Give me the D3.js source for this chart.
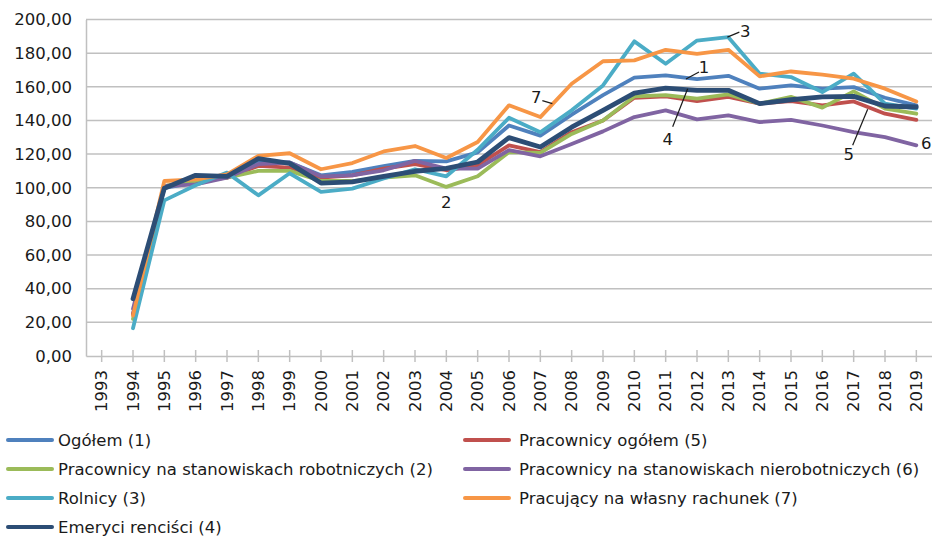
<!DOCTYPE html>
<html>
<head>
<meta charset="utf-8">
<script src="https://cdn.jsdelivr.net/npm/d3@7"></script>
<style>
  body { margin: 0; background: #fff; }
  svg { display: block; font-family: "DejaVu Sans", sans-serif; }
</style>
</head>
<body>
<div id="chart"></div>
<script>
const years = d3.range(1993, 2020).map(String);

// index 1993..2019, no value for 1993
const ogolem = [null, 25, 100, 103, 107, 115, 115, 107.4, 109.4, 112.8, 115.9, 115.7, 121, 137, 131, 143.4, 155, 165.4, 166.8, 164.6, 166.5, 158.9, 160.8, 158.9, 159.8, 153.5, 149];
const pracownicyOgolem = [null, 25, 101, 104, 106, 113, 112, 106, 107.4, 111.4, 114, 110.4, 113.4, 125.2, 121.2, 133, 140, 153.5, 154.3, 151.5, 154, 150, 151.5, 149, 151.3, 144, 140.4];
const robotnicy = [null, 22, 101, 104, 106, 110, 110, 104, 104, 106, 107.4, 100.5, 106.8, 121.2, 120.7, 132, 140, 154.3, 155, 153, 155.5, 150, 154, 147.6, 157.3, 147, 144];
const nierobotnicy = [null, 28, 101, 102, 106, 114, 115, 106.8, 107.4, 110.4, 116, 111.4, 111.4, 122.3, 118.7, 126, 133.5, 142, 146, 140.6, 143, 139, 140.4, 137, 133.1, 130.1, 125.2];
const rolnicy = [null, 16.5, 92.5, 101.5, 109, 95.5, 108.6, 97.5, 99.5, 105.5, 111, 106.8, 122.6, 141.6, 133, 146, 160.8, 187, 173.7, 187.5, 189.5, 167.8, 165.8, 156.9, 167.8, 150, 147];
const wlasnyRachunek = [null, 24, 104, 105, 108, 119, 120.5, 111, 114.7, 121.6, 124.8, 117.7, 127.2, 149, 142, 161.8, 175.2, 175.7, 182, 179.6, 182, 166.2, 169.1, 167.2, 164.8, 158.9, 151.3];
const emeryci = [null, 34, 99.7, 107.4, 106.8, 117.3, 114.5, 102.8, 103.5, 106.8, 109.8, 111.5, 115.3, 129.8, 124.2, 136, 146, 156.3, 159.2, 157.9, 157.9, 150, 152.3, 154, 154.3, 148.6, 148];

const seriesNames = [
  'Ogółem (1)',
  'Pracownicy ogółem (5)',
  'Pracownicy na stanowiskach robotniczych (2)',
  'Pracownicy na stanowiskach nierobotniczych (6)',
  'Rolnicy (3)',
  'Pracujący na własny rachunek (7)',
  'Emeryci renciści (4)'
];
const seriesValues = [ogolem, pracownicyOgolem, robotnicy, nierobotnicy, rolnicy, wlasnyRachunek, emeryci];
const seriesColors = ['#4f81bd', '#c0504d', '#9bbb59', '#8064a2', '#4bacc6', '#f79646', '#2c4d75'];

const yTicks = d3.range(0, 201, 20);

const width = 932, height = 539;

const svg = d3.select('#chart')
  .append('svg')
  .attr('width', width)
  .attr('height', height);

const x = d3.scaleBand().domain(years).range([86, 932]);
const y = d3.scaleLinear().domain([0, 200]).range([356, 19.5]);
const xc = (yr) => x(yr) + x.bandwidth() / 2;
const fmt = (v) => d3.format('.2f')(v).replace('.', ',');

// gridlines
svg.append('g')
  .selectAll('line')
  .data(yTicks.filter(d => d > 0))
  .enter()
  .append('line')
  .attr('x1', 86)
  .attr('x2', 932)
  .attr('y1', d => y(d))
  .attr('y2', d => y(d))
  .style('stroke', '#c0c0c0')
  .style('stroke-width', 1.5);

// y axis
const yAxis = svg.append('g')
  .attr('transform', 'translate(86,0)')
  .call(d3.axisLeft(y).tickValues(yTicks).tickSize(0).tickPadding(14).tickFormat(fmt));
yAxis.select('.domain').style('stroke', '#c0c0c0').style('stroke-width', 1.5);
yAxis.selectAll('text')
  .style('font-family', '"DejaVu Sans", sans-serif')
  .style('font-size', '16.5px')
  .style('fill', '#1a1a1a');

// x axis
const xAxis = svg.append('g')
  .attr('transform', 'translate(0,356)')
  .call(d3.axisBottom(x).tickSizeInner(6).tickSizeOuter(0));
xAxis.select('.domain').style('stroke', '#c0c0c0').style('stroke-width', 1.5);
xAxis.selectAll('.tick line')
  .attr('y1', -6)
  .style('stroke', '#c0c0c0')
  .style('stroke-width', 1.5);
xAxis.selectAll('text')
  .attr('transform', 'rotate(-90)')
  .attr('x', -14)
  .attr('y', 0)
  .attr('dy', '0.35em')
  .style('text-anchor', 'end')
  .style('font-family', '"DejaVu Sans", sans-serif')
  .style('font-size', '16.5px')
  .style('fill', '#1a1a1a');

// lines
const line = d3.line()
  .defined(d => d[1] !== null)
  .x(d => xc(d[0]))
  .y(d => y(d[1]));

const data = seriesNames.map((name, i) => ({
  name,
  color: seriesColors[i],
  values: years.map((yr, j) => [yr, seriesValues[i][j]])
}));

svg.append('g')
  .selectAll('path')
  .data(data)
  .enter()
  .append('path')
  .attr('d', d => line(d.values))
  .attr('fill', 'none')
  .attr('stroke', d => d.color)
  .attr('stroke-width', (d, i) => i === 6 ? 4.8 : 3.8)
  .attr('stroke-linejoin', 'round')
  .attr('stroke-linecap', 'round');

// annotations: year, value on the line, leader offsets and label offset
const notes = [
  {label: '1', year: '2012', value: 164.6, lx1: -11, ly1: 0, lx2: 2, ly2: -7, tx: 7, ty: -12},
  {label: '2', year: '2004', value: 100.5, lx1: 0, ly1: 0, lx2: 0, ly2: 0, tx: 0, ty: 15},
  {label: '3', year: '2013', value: 189.5, lx1: -1, ly1: 0, lx2: 11, ly2: -5, tx: 17, ty: -6},
  {label: '4', year: '2011', value: 158.8, lx1: 22, ly1: 0, lx2: 7, ly2: 38, tx: 2, ty: 50},
  {label: '5', year: '2017', value: 146.6, lx1: 14, ly1: 0, lx2: -1, ly2: 36, tx: -5, ty: 45},
  {label: '6', year: '2019', value: 125.2, lx1: 0, ly1: 0, lx2: 0, ly2: 0, tx: 10, ty: -2},
  {label: '7', year: '2007', value: 150, lx1: 12, ly1: 0, lx2: 2, ly2: -3, tx: -4, ty: -6}
];

const ann = svg.append('g');
ann.selectAll('line')
  .data(notes.filter(d => d.lx1 !== d.lx2 || d.ly1 !== d.ly2))
  .enter()
  .append('line')
  .attr('x1', d => xc(d.year) + d.lx1)
  .attr('y1', d => y(d.value) + d.ly1)
  .attr('x2', d => xc(d.year) + d.lx2)
  .attr('y2', d => y(d.value) + d.ly2)
  .style('stroke', '#1a1a1a')
  .style('stroke-width', 1.2);
ann.selectAll('text')
  .data(notes)
  .enter()
  .append('text')
  .attr('x', d => xc(d.year) + d.tx)
  .attr('y', d => y(d.value) + d.ty)
  .attr('dy', '0.35em')
  .attr('text-anchor', 'middle')
  .style('font-size', '16.5px')
  .style('fill', '#1a1a1a')
  .text(d => d.label);

// legend
const legend = svg.append('g')
  .selectAll('g')
  .data(data)
  .enter()
  .append('g')
  .attr('transform', (d, i) => `translate(${i % 2 === 0 ? 8 : 465},${440 + Math.floor(i / 2) * 29})`);

legend.append('line')
  .attr('x1', 0)
  .attr('x2', 44)
  .attr('y1', 0)
  .attr('y2', 0)
  .attr('stroke', d => d.color)
  .attr('stroke-width', 4)
  .attr('stroke-linecap', 'round');

legend.append('text')
  .attr('x', (d, i) => i % 2 === 0 ? 50 : 54)
  .attr('y', 0)
  .attr('dy', '0.35em')
  .style('font-size', '16.5px')
  .style('fill', '#1a1a1a')
  .text(d => d.name);
</script>
</body>
</html>
